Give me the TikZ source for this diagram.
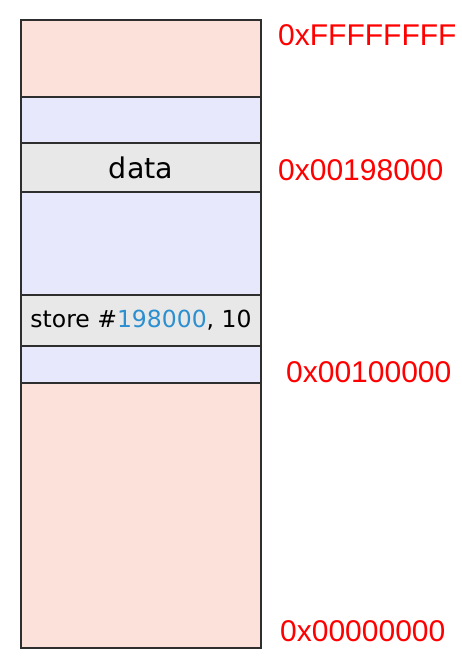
\documentclass[tikz,border=0pt]{standalone}
\usepackage{fontspec}
\setmainfont{DejaVu Sans}
\newfontfamily\addrfont{Liberation Sans}
\definecolor{pinkfill}{HTML}{FCE0DA}
\definecolor{lavfill}{HTML}{E8E8FC}
\definecolor{grayfill}{HTML}{E8E8E8}
\definecolor{edgecol}{HTML}{2E2E2E}
\definecolor{addrred}{HTML}{FF0000}
\definecolor{numblue}{HTML}{2B8FD0}
\begin{document}
\begin{tikzpicture}[x=1pt,y=-1pt,
  seg/.style={draw=edgecol,line width=1.6pt,minimum width=240pt,inner sep=0pt,outer sep=0pt,anchor=north west},
  addr/.style={anchor=west,inner sep=0pt,text=addrred,font=\addrfont\fontsize{30}{36}\selectfont}]
\useasboundingbox[fill=white] (0,0) rectangle (462,662);
\begin{scope}
\clip (0,0) rectangle (454,662);
% memory segments, top to bottom
\node[seg,fill=pinkfill,minimum height=77pt] (top) at (21,20) {};
\node[seg,fill=lavfill,minimum height=46pt] (gapA) at (21,97) {};
\node[seg,fill=grayfill,minimum height=49pt,font=\fontsize{28.5}{34}\selectfont] (data) at (21,143) {data};
\node[seg,fill=lavfill,minimum height=103pt] (gapB) at (21,192) {};
\node[seg,fill=grayfill,minimum height=51pt,font=\fontsize{23.5}{28}\selectfont] (store) at (21,295) {store \#\textcolor{numblue}{198000}, 10};
\node[seg,fill=lavfill,minimum height=37pt] (gapC) at (21,346) {};
\node[seg,fill=pinkfill,minimum height=265pt] (low) at (21,383) {};
% address labels
\node[addr] (aTop) at (278,35) {0xFFFFFFFF};
\node[addr] (aData) at (278,170) {0x00198000};
\node[addr] (aCode) at (286,372) {0x00100000};
\node[addr] (aZero) at (280,631) {0x00000000};
\end{scope}
\end{tikzpicture}
\end{document}
